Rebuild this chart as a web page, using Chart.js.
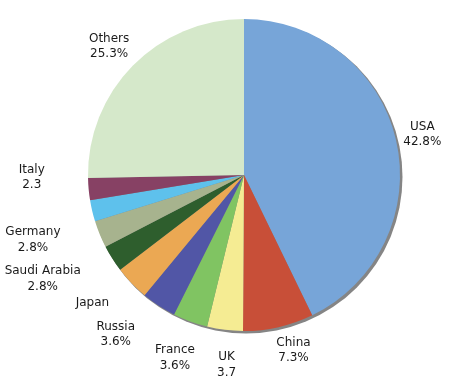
<!DOCTYPE html>
<html>
<head>
<meta charset="utf-8">
<script src="https://cdn.jsdelivr.net/npm/chart.js@4"></script>
<style>
html,body{margin:0;padding:0;background:#fff}
#wrap{width:462px;height:388px;position:relative}
</style>
</head>
<body>
<div id="wrap"><canvas id="c"></canvas></div>
<script>
// DATA
const countries=['USA','China','UK','France','Russia','Japan','Saudi Arabia','Germany','','Italy','Others'];
const shares   =[42.8, 7.3, 3.7, 3.6, 3.6, 3.6, 2.8, 2.8, 2.2, 2.3, 25.3];
const valueText=['42.8%','7.3%','3.7','3.6%','3.6%','','2.8%','2.8%','','2.3','25.3%'];
const colors=['#77A5D8','#C84F38','#F5EC93','#80C462','#5156A6','#EBA853','#2E5E2D','#A7B38E','#5EC1EC','#874164','#D5E8CA'];

// label nudges (Excel style collision push) relative to computed anchor
const nudge=[[-2,0],[9,-1],[4,10],[-5,13],[-27,8],[-20,8],[-29,7],[-32,-4],[0,0],[-34,-14],[-2,-2]];

const shadowPlugin={
  id:'shadow',
  beforeDatasetsDraw(chart){
    const a=chart.getDatasetMeta(0).data[0]; if(!a)return;
    const ctx=chart.ctx;
    ctx.save();
    ctx.fillStyle='#858585';
    ctx.beginPath();ctx.arc(a.x+2,a.y+2,a.outerRadius+0.5,0,Math.PI*2);ctx.fill();
    ctx.restore();
  }
};

const labelPlugin={
  id:'lbls',
  afterDatasetsDraw(chart){
    const ctx=chart.ctx, meta=chart.getDatasetMeta(0);
    ctx.save();
    ctx.font='12px "DejaVu Sans", Verdana, sans-serif';
    ctx.fillStyle='#1a1a1a';
    ctx.textAlign='center';ctx.textBaseline='middle';
    const lh=15.5;
    meta.data.forEach((arc,i)=>{
      if(!countries[i])return;
      const lines=[countries[i]]; if(valueText[i])lines.push(valueText[i]);
      const mid=(arc.startAngle+arc.endAngle)/2;
      const dx=Math.cos(mid), dy=Math.sin(mid);
      const w=Math.max(...lines.map(t=>ctx.measureText(t).width)), h=lines.length*15;
      const r=arc.outerRadius+10;
      const cx=arc.x+dx*r+dx*w/2+nudge[i][0];
      const cy=arc.y+dy*r+dy*h/2+nudge[i][1];
      lines.forEach((t,k)=>ctx.fillText(t,cx,cy+(k-(lines.length-1)/2)*lh));
    });
    ctx.restore();
  }
};

new Chart(document.getElementById('c'),{
  type:'pie',
  data:{labels:countries,datasets:[{data:shares,backgroundColor:colors,borderWidth:0}]},
  options:{
    responsive:true,maintainAspectRatio:false,animation:false,
    layout:{padding:{left:88,right:62,top:19,bottom:57}},
    plugins:{legend:{display:false},tooltip:{enabled:false}}
  },
  plugins:[shadowPlugin,labelPlugin]
});
</script>
</body>
</html>
